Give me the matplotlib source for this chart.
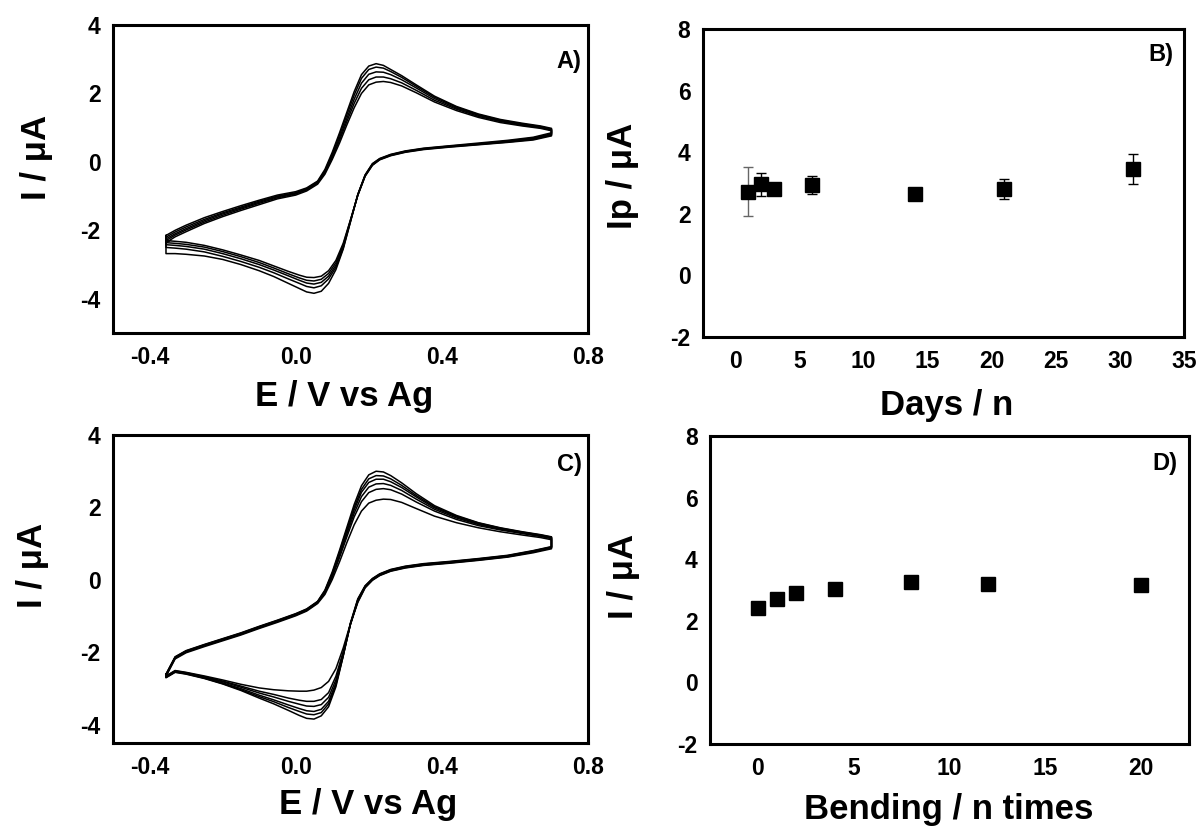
import matplotlib
matplotlib.use("Agg")
import matplotlib.pyplot as plt
import numpy as np

plt.rcParams["font.family"] = ["Liberation Sans", "DejaVu Sans"]
plt.rcParams["font.weight"] = "bold"
plt.rcParams["axes.unicode_minus"] = False

# ---- CV potentials (V) for the anodic (upper) and cathodic (lower) sweeps
E_up = [-0.355, -0.33, -0.30, -0.25, -0.20, -0.15, -0.10, -0.05, 0.00, 0.03,
        0.06, 0.08, 0.10, 0.12, 0.14, 0.16, 0.18, 0.20, 0.22, 0.24,
        0.26, 0.29, 0.33, 0.38, 0.44, 0.50, 0.56, 0.62, 0.67, 0.70]
E_dn = [0.70, 0.65, 0.58, 0.50, 0.42, 0.35, 0.30, 0.26, 0.23, 0.21,
        0.19, 0.17, 0.15, 0.13, 0.11, 0.09, 0.07, 0.05, 0.03, 0.01,
        -0.02, -0.06, -0.10, -0.15, -0.20, -0.25, -0.30, -0.33, -0.355]

# panel A: storage stability CVs (uA)
A_up = [
    [-2.15, -2.00, -1.85, -1.63, -1.45, -1.28, -1.12, -0.97, -0.87, -0.76, -0.56, -0.22, 0.28, 0.85, 1.45,
     2.05, 2.55, 2.80, 2.87, 2.82, 2.70, 2.52, 2.25, 1.92, 1.62, 1.40, 1.24, 1.13, 1.05, 0.98],
    [-2.20, -2.05, -1.90, -1.68, -1.49, -1.32, -1.15, -1.00, -0.90, -0.78, -0.58, -0.26, 0.22, 0.78, 1.37,
     1.95, 2.44, 2.70, 2.77, 2.74, 2.64, 2.47, 2.21, 1.89, 1.60, 1.38, 1.22, 1.11, 1.03, 0.96],
    [-2.25, -2.10, -1.95, -1.72, -1.52, -1.35, -1.18, -1.02, -0.92, -0.80, -0.60, -0.29, 0.17, 0.70, 1.27,
     1.83, 2.30, 2.56, 2.63, 2.62, 2.55, 2.40, 2.16, 1.85, 1.57, 1.36, 1.20, 1.09, 1.02, 0.95],
    [-2.30, -2.14, -1.99, -1.76, -1.56, -1.38, -1.21, -1.05, -0.94, -0.82, -0.62, -0.32, 0.12, 0.63, 1.18,
     1.71, 2.15, 2.40, 2.48, 2.48, 2.43, 2.31, 2.09, 1.80, 1.54, 1.33, 1.18, 1.07, 1.00, 0.93],
    [-2.36, -2.19, -2.04, -1.80, -1.60, -1.42, -1.25, -1.08, -0.97, -0.85, -0.65, -0.36, 0.07, 0.55, 1.08,
     1.58, 2.00, 2.25, 2.33, 2.35, 2.32, 2.22, 2.02, 1.75, 1.50, 1.30, 1.15, 1.05, 0.98, 0.91],
]
A_dn = [
    [0.85, 0.72, 0.63, 0.55, 0.47, 0.40, 0.32, 0.22, 0.10, -0.05, -0.38, -0.95, -1.75, -2.55, -3.15,
     -3.55, -3.78, -3.84, -3.80, -3.70, -3.55, -3.35, -3.18, -3.00, -2.85, -2.75, -2.70, -2.68, -2.68],
    [0.82, 0.70, 0.61, 0.53, 0.46, 0.39, 0.31, 0.21, 0.09, -0.06, -0.39, -0.96, -1.74, -2.52, -3.08,
     -3.42, -3.62, -3.68, -3.64, -3.55, -3.42, -3.24, -3.08, -2.91, -2.76, -2.63, -2.55, -2.52, -2.50],
    [0.80, 0.68, 0.60, 0.52, 0.45, 0.38, 0.30, 0.20, 0.08, -0.08, -0.40, -0.96, -1.72, -2.48, -3.02,
     -3.34, -3.52, -3.57, -3.54, -3.46, -3.33, -3.16, -3.00, -2.83, -2.68, -2.55, -2.47, -2.44, -2.42],
    [0.78, 0.66, 0.58, 0.51, 0.44, 0.37, 0.29, 0.19, 0.07, -0.09, -0.41, -0.97, -1.70, -2.43, -2.95,
     -3.26, -3.43, -3.48, -3.46, -3.39, -3.27, -3.10, -2.94, -2.77, -2.62, -2.49, -2.41, -2.38, -2.36],
    [0.76, 0.64, 0.57, 0.50, 0.43, 0.36, 0.28, 0.18, 0.06, -0.10, -0.42, -0.98, -1.69, -2.38, -2.88,
     -3.18, -3.34, -3.38, -3.37, -3.31, -3.20, -3.04, -2.88, -2.72, -2.57, -2.44, -2.35, -2.32, -2.30],
]

# panel C: bending CVs (uA)
C_up = [
    [-2.60, -2.12, -1.95, -1.78, -1.62, -1.46, -1.28, -1.11, -0.93, -0.80, -0.59, -0.28, 0.22, 0.82, 1.45,
     2.08, 2.60, 2.90, 3.00, 2.98, 2.88, 2.68, 2.38, 2.05, 1.78, 1.58, 1.44, 1.33, 1.25, 1.19],
    [-2.61, -2.13, -1.96, -1.79, -1.63, -1.47, -1.29, -1.12, -0.94, -0.81, -0.60, -0.30, 0.18, 0.77, 1.39,
     2.00, 2.50, 2.79, 2.88, 2.87, 2.79, 2.61, 2.33, 2.02, 1.76, 1.57, 1.43, 1.32, 1.24, 1.18],
    [-2.62, -2.14, -1.97, -1.80, -1.64, -1.48, -1.30, -1.13, -0.95, -0.82, -0.61, -0.32, 0.15, 0.73, 1.34,
     1.93, 2.42, 2.69, 2.78, 2.78, 2.71, 2.55, 2.29, 1.99, 1.74, 1.55, 1.41, 1.31, 1.23, 1.17],
    [-2.63, -2.15, -1.98, -1.81, -1.65, -1.49, -1.31, -1.14, -0.96, -0.83, -0.62, -0.34, 0.12, 0.68, 1.27,
     1.84, 2.30, 2.56, 2.65, 2.66, 2.61, 2.47, 2.23, 1.95, 1.71, 1.53, 1.40, 1.30, 1.22, 1.16],
    [-2.64, -2.16, -1.99, -1.82, -1.66, -1.50, -1.32, -1.15, -0.97, -0.84, -0.63, -0.36, 0.08, 0.62, 1.19,
     1.74, 2.16, 2.41, 2.50, 2.52, 2.49, 2.37, 2.15, 1.90, 1.67, 1.50, 1.38, 1.28, 1.20, 1.14],
    [-2.66, -2.18, -2.01, -1.84, -1.68, -1.52, -1.34, -1.17, -0.99, -0.86, -0.65, -0.40, 0.01, 0.50, 1.03,
     1.52, 1.90, 2.12, 2.20, 2.23, 2.22, 2.14, 1.97, 1.76, 1.58, 1.44, 1.33, 1.24, 1.17, 1.11],
]
C_dn = [
    [0.92, 0.81, 0.68, 0.59, 0.51, 0.45, 0.38, 0.29, 0.17, 0.04, -0.16, -0.52, -1.18, -2.10, -2.95,
     -3.50, -3.75, -3.84, -3.82, -3.74, -3.60, -3.42, -3.26, -3.05, -2.87, -2.72, -2.60, -2.55, -2.70],
    [0.91, 0.80, 0.67, 0.58, 0.50, 0.44, 0.37, 0.28, 0.16, 0.03, -0.17, -0.54, -1.20, -2.10, -2.90,
     -3.42, -3.66, -3.72, -3.70, -3.63, -3.52, -3.36, -3.22, -3.03, -2.86, -2.71, -2.59, -2.54, -2.69],
    [0.90, 0.79, 0.66, 0.57, 0.49, 0.43, 0.36, 0.27, 0.15, 0.02, -0.18, -0.56, -1.22, -2.08, -2.85,
     -3.35, -3.57, -3.63, -3.61, -3.55, -3.45, -3.31, -3.18, -3.00, -2.84, -2.70, -2.58, -2.53, -2.68],
    [0.89, 0.78, 0.65, 0.56, 0.48, 0.42, 0.35, 0.26, 0.14, 0.01, -0.19, -0.58, -1.22, -2.04, -2.76,
     -3.24, -3.44, -3.49, -3.48, -3.43, -3.35, -3.23, -3.12, -2.96, -2.81, -2.68, -2.57, -2.52, -2.67],
    [0.88, 0.77, 0.64, 0.55, 0.47, 0.41, 0.34, 0.25, 0.13, 0.00, -0.20, -0.60, -1.22, -1.98, -2.66,
     -3.11, -3.30, -3.35, -3.35, -3.32, -3.26, -3.16, -3.07, -2.93, -2.79, -2.67, -2.56, -2.51, -2.66],
    [0.86, 0.75, 0.63, 0.54, 0.46, 0.40, 0.33, 0.24, 0.12, -0.01, -0.22, -0.62, -1.20, -1.88, -2.45,
     -2.80, -2.97, -3.04, -3.07, -3.07, -3.06, -3.03, -2.98, -2.88, -2.76, -2.65, -2.55, -2.50, -2.65],
]

# panel B: peak current vs storage days
days = [1, 2, 3, 6, 14, 21, 31]
ip_days = [2.72, 2.96, 2.80, 2.93, 2.63, 2.80, 3.46]
ip_err = [0.79, 0.38, 0.08, 0.30, 0.06, 0.33, 0.48]

# panel D: peak current vs number of bendings
bends = [0, 1, 2, 4, 8, 12, 20]
ip_bend = [2.43, 2.70, 2.89, 3.04, 3.25, 3.18, 3.16]

W, H = 1198, 830
fig = plt.figure(figsize=(W / 100, H / 100), dpi=100)


def box(x0, y0, x1, y1):
    # pixel box -> figure axes
    return fig.add_axes([x0 / W, 1 - y1 / H, (x1 - x0) / W, (y1 - y0) / H])


axA = box(113, 25, 588, 333)
axB = box(703, 29, 1184, 337)
axC = box(113, 435, 588, 743)
axD = box(710, 436, 1189, 744)

for ax in (axA, axB, axC, axD):
    for s in ax.spines.values():
        s.set_linewidth(2.2)
    ax.tick_params(length=0, labelsize=16.5, pad=9)


def draw_cv(ax, ups, dns):
    for up, dn in zip(ups, dns):
        ee = np.r_[E_up, E_dn, E_up[0]]
        ii = np.r_[up, dn, up[0]]
        ax.plot(ee, ii, color="black", lw=1.1)
    ax.set_xlim(-0.5, 0.8)
    ax.set_xticks([-0.4, 0.0, 0.4, 0.8])
    ax.set_xticklabels(["-0.4", "0.0", "0.4", "0.8"])
    ax.set_yticks([-4, -2, 0, 2, 4])


draw_cv(axA, A_up, A_dn)
axA.set_ylim(-5, 4)
draw_cv(axC, C_up, C_dn)
axC.set_ylim(-4.5, 4)

# B
axB.errorbar(days[:1], ip_days[:1], yerr=ip_err[:1], fmt="none", ecolor="#666666",
             elinewidth=1.0, capsize=3.5, capthick=1.0, zorder=2)
axB.errorbar(days[1:], ip_days[1:], yerr=ip_err[1:], fmt="none", ecolor="black",
             elinewidth=1.0, capsize=3.5, capthick=1.0, zorder=2)
axB.plot(days, ip_days, "s", color="black", ms=9.5, zorder=3)
axB.set_xlim(-2.5, 35)
axB.set_ylim(-2, 8)
axB.set_xticks([0, 5, 10, 15, 20, 25, 30, 35])
axB.set_yticks([-2, 0, 2, 4, 6, 8])

# D
axD.plot(bends, ip_bend, "s", color="black", ms=9.5)
axD.set_xlim(-2.5, 22.5)
axD.set_ylim(-2, 8)
axD.set_xticks([0, 5, 10, 15, 20])
axD.set_yticks([-2, 0, 2, 4, 6, 8])

for ax in (axA, axB, axC, axD):
    for lab in ax.get_xticklabels() + ax.get_yticklabels():
        lab.set_fontweight("bold")

lab_kw = dict(fontsize=25, fontweight="bold")
axA.set_xlabel("E / V vs Ag", va="center", **lab_kw)
axA.xaxis.set_label_coords(0.486, -0.205)
axA.set_ylabel("I / μA", va="center", **lab_kw)
axA.yaxis.set_label_coords(-0.162, 0.571)

axB.set_xlabel("Days / n", va="center", **lab_kw)
axB.xaxis.set_label_coords(0.507, -0.221)
axB.set_ylabel("Ip / μA", va="center", **lab_kw)
axB.yaxis.set_label_coords(-0.168, 0.523)

axC.set_xlabel("E / V vs Ag", va="center", **lab_kw)
axC.xaxis.set_label_coords(0.537, -0.201)
axC.set_ylabel("I / μA", va="center", **lab_kw)
axC.yaxis.set_label_coords(-0.169, 0.578)

axD.set_xlabel("Bending / n times", va="center", **lab_kw)
axD.xaxis.set_label_coords(0.499, -0.214)
axD.set_ylabel("I / μA", va="center", **lab_kw)
axD.yaxis.set_label_coords(-0.18, 0.545)

tag_kw = dict(fontsize=17, fontweight="bold", ha="center", va="center")
axA.text(0.96, 0.88, "A)", transform=axA.transAxes, **tag_kw)
axB.text(0.952, 0.916, "B)", transform=axB.transAxes, **tag_kw)
axC.text(0.96, 0.903, "C)", transform=axC.transAxes, **tag_kw)
axD.text(0.95, 0.912, "D)", transform=axD.transAxes, **tag_kw)

fig.savefig("out.png", dpi=100)
